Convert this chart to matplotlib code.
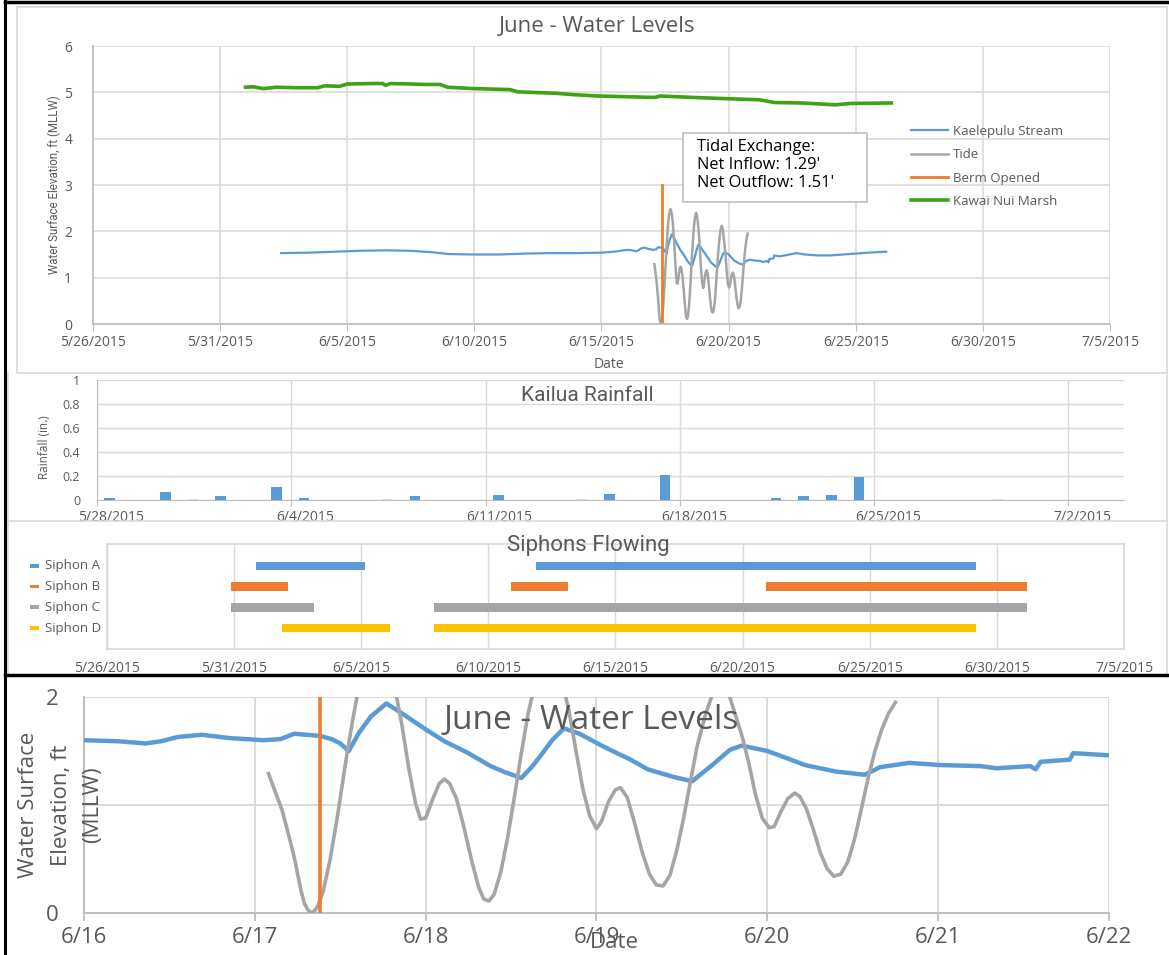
import numpy as np
import pandas as pd
import matplotlib
matplotlib.use("Agg")
import matplotlib.pyplot as plt
import matplotlib.dates as mdates
from matplotlib.lines import Line2D
from matplotlib.patches import Rectangle

plt.rcParams['font.family'] = ['Open Sans', 'DejaVu Sans']

# ---------------- data ----------------
# June day numbers (6/1 00:00 = 1.0)
kael_day = [2.4, 3.5, 4.5, 5.5, 6.5, 7.5, 8.3, 9.0, 10.0, 11.0, 12.0, 13.0, 14.0, 15.0, 15.5,
            16.0, 16.2, 16.36, 16.45, 16.55, 16.69, 16.85, 17.05, 17.15, 17.23, 17.38, 17.45,
            17.5, 17.55, 17.61, 17.68, 17.77, 17.86, 18.0, 18.11, 18.25, 18.38, 18.47, 18.56,
            18.62, 18.67, 18.74, 18.81, 18.9, 19.03, 19.12, 19.2, 19.3, 19.45, 19.56, 19.67,
            19.78, 19.85, 20.0, 20.12, 20.22, 20.4, 20.57, 20.66, 20.83, 21.01, 21.25, 21.34,
            21.54, 21.57, 21.6, 21.77, 21.79, 22.0, 22.4, 22.66, 23.0, 23.5, 24.0, 24.5, 25.0,
            25.5, 26.2]
kael_val = [1.53, 1.54, 1.56, 1.58, 1.59, 1.58, 1.55, 1.51, 1.50, 1.50, 1.52, 1.53, 1.53, 1.54, 1.56,
            1.60, 1.59, 1.57, 1.59, 1.63, 1.65, 1.62, 1.60, 1.61, 1.66, 1.64, 1.61,
            1.57, 1.50, 1.67, 1.82, 1.94, 1.85, 1.70, 1.59, 1.48, 1.36, 1.30, 1.25,
            1.35, 1.45, 1.60, 1.71, 1.66, 1.55, 1.48, 1.42, 1.33, 1.26, 1.22, 1.36,
            1.51, 1.55, 1.50, 1.43, 1.37, 1.31, 1.28, 1.35, 1.39, 1.37, 1.36, 1.34,
            1.36, 1.33, 1.40, 1.42, 1.48, 1.46, 1.50, 1.53, 1.50, 1.48, 1.48, 1.50, 1.52,
            1.54, 1.56]

tide_day = [17.08, 17.12, 17.16, 17.20, 17.23, 17.27, 17.29, 17.31, 17.33, 17.35, 17.37, 17.40,
            17.44, 17.48, 17.51, 17.54, 17.57, 17.60, 17.63, 17.66, 17.71, 17.76, 17.80, 17.83,
            17.86, 17.90, 17.94, 17.97, 18.00, 18.04, 18.08, 18.11, 18.14, 18.18, 18.22, 18.27,
            18.31, 18.34, 18.37, 18.40, 18.44, 18.48, 18.52, 18.56, 18.60, 18.64, 18.68, 18.72,
            18.76, 18.80, 18.84, 18.88, 18.92, 18.96, 19.00, 19.03, 19.07, 19.11, 19.14, 19.18,
            19.22, 19.27, 19.31, 19.35, 19.39, 19.43, 19.47, 19.51, 19.55, 19.59, 19.64, 19.68,
            19.73, 19.77, 19.81, 19.85, 19.89, 19.93, 19.97, 20.01, 20.04, 20.08, 20.12, 20.16,
            20.19, 20.23, 20.27, 20.31, 20.35, 20.39, 20.43, 20.47, 20.51, 20.55, 20.59, 20.63,
            20.67, 20.71, 20.75]
tide_val = [1.29, 1.12, 0.95, 0.71, 0.52, 0.21, 0.09, 0.03, 0.00, 0.02, 0.07, 0.20,
            0.49, 0.86, 1.17, 1.48, 1.76, 2.02, 2.22, 2.36, 2.48, 2.40, 2.20, 2.00,
            1.75, 1.35, 1.02, 0.87, 0.88, 1.05, 1.20, 1.24, 1.20, 1.06, 0.82, 0.48,
            0.24, 0.13, 0.11, 0.17, 0.38, 0.70, 1.08, 1.48, 1.85, 2.12, 2.32, 2.40,
            2.33, 2.14, 1.86, 1.50, 1.15, 0.90, 0.78, 0.85, 1.03, 1.14, 1.16, 1.07,
            0.85, 0.55, 0.36, 0.26, 0.25, 0.35, 0.58, 0.88, 1.22, 1.55, 1.85, 2.03,
            2.12, 2.05, 1.85, 1.65, 1.40, 1.10, 0.88, 0.79, 0.80, 0.94, 1.06, 1.11,
            1.08, 0.96, 0.77, 0.56, 0.41, 0.34, 0.36, 0.47, 0.68, 0.96, 1.25, 1.50,
            1.70, 1.85, 1.95]

berm_day = [17.38, 17.38]
berm_val = [0.0, 3.0]

marsh_day = [1.0, 1.3, 1.7, 2.2, 3.0, 3.84, 4.1, 4.7, 5.0, 6.0, 6.4, 6.5, 6.7, 7.5, 8.0, 8.65,
             8.95, 10.0, 11.4, 11.7, 13.2, 13.9, 14.9, 15.64, 17.1, 17.3, 18.6, 20.06, 21.2,
             21.8, 22.9, 24.2, 24.8, 26.4]
marsh_val = [5.11, 5.12, 5.08, 5.11, 5.10, 5.10, 5.14, 5.13, 5.18, 5.19, 5.19, 5.15, 5.19, 5.18,
             5.17, 5.17, 5.11, 5.08, 5.06, 5.01, 4.98, 4.95, 4.92, 4.91, 4.89, 4.92, 4.89, 4.86,
             4.84, 4.78, 4.77, 4.73, 4.76, 4.77]

rain_dates = ['2015-05-28', '2015-05-30', '2015-06-01', '2015-06-03', '2015-06-04', '2015-06-08',
              '2015-06-11', '2015-06-15', '2015-06-17', '2015-06-21', '2015-06-22', '2015-06-23',
              '2015-06-24']
rain_vals = [0.015, 0.07, 0.03, 0.11, 0.02, 0.03, 0.04, 0.05, 0.21, 0.02, 0.03, 0.04, 0.19]
trace_dates = ['2015-05-31', '2015-06-07', '2015-06-14', '2015-06-29']
trace_vals = [0.01, 0.01, 0.01, 0.01]

siphons = ['Siphon A', 'Siphon B', 'Siphon C', 'Siphon D']
siphon_runs = {
    'Siphon A': [('2015-05-31 21:00', '2015-06-05 04:00'), ('2015-06-11 21:00', '2015-06-29 04:00')],
    'Siphon B': [('2015-05-30 21:00', '2015-06-02 03:00'), ('2015-06-10 21:00', '2015-06-13 03:00'),
                 ('2015-06-20 22:00', '2015-07-01 04:00')],
    'Siphon C': [('2015-05-30 21:00', '2015-06-03 03:00'), ('2015-06-07 21:00', '2015-07-01 04:00')],
    'Siphon D': [('2015-06-01 21:00', '2015-06-06 03:00'), ('2015-06-07 21:00', '2015-06-29 04:00')],
}
siphon_colors = ['#5B9BD5', '#ED7D31', '#A5A5A5', '#FFC000']

BLUE, GRAY, ORANGE, GREEN = '#5B9BD5', '#A5A5A5', '#ED7D31', '#3EA312'
GRID, SPINE, TXT = '#D9D9D9', '#BFBFBF', '#595959'


def june(d):
    return pd.Timestamp('2015-05-31') + pd.to_timedelta(np.asarray(d, dtype=float), unit='D')


def mdy(d):
    return f"{d.month}/{d.day}/{d.year}"


W, H = 1169, 955
fig = plt.figure(figsize=(W / 100, H / 100), dpi=100)


def rect(l, t, r, b):
    return [l / W, 1 - b / H, (r - l) / W, (b - t) / H]


def ftext(x, y, s, **kw):
    return fig.text(x / W, 1 - y / H, s, **kw)


def fline(xs, ys, **kw):
    fig.add_artist(Line2D([x / W for x in xs], [1 - y / H for y in ys],
                          transform=fig.transFigure, **kw))


def style(ax):
    for s in ax.spines.values():
        s.set_visible(False)
    ax.set_facecolor('none')


# ---------------- frames ----------------
fline([17, 17, 1167], [7, 373, 373], color=GRID, lw=1.2)
fline([17, 1167], [7, 7], color=GRID, lw=1.2)
fline([8, 8], [373, 673], color=GRID, lw=1.2)
fline([1167, 1167], [7, 673], color=GRID, lw=1.2)
fline([8, 1167], [521, 521], color=GRID, lw=1.2)
fline([5, 1169], [2, 2], color='black', lw=2.5)
fline([5, 5], [0, 955], color='black', lw=2.2)
fline([5, 1169], [675, 675], color='black', lw=2.5)

# ---------------- panel 1 ----------------
ax1 = fig.add_axes(rect(93, 46, 1110, 324))
style(ax1)
x0, x1 = pd.Timestamp('2015-05-26'), pd.Timestamp('2015-07-05')
ax1.set_xlim(x0, x1)
ax1.set_ylim(0, 6)
ticks5 = pd.date_range(x0, x1, freq='5D')
ax1.set_xticks(ticks5)
ax1.set_xticklabels([mdy(d) for d in ticks5])
ax1.set_yticks(range(0, 7))
ax1.grid(True, color=GRID, lw=1.1)
ax1.spines['left'].set_visible(True)
ax1.spines['bottom'].set_visible(True)
ax1.spines['left'].set_color(SPINE)
ax1.spines['bottom'].set_color(SPINE)
ax1.spines['left'].set_linewidth(1.3)
ax1.spines['bottom'].set_linewidth(1.3)
ax1.tick_params(axis='x', length=5, color=SPINE, labelsize=10, labelcolor=TXT, pad=3)
ax1.tick_params(axis='y', length=0, labelsize=10, labelcolor=TXT, pad=15)
l_k, = ax1.plot(june(kael_day), kael_val, color=BLUE, lw=1.6, label='Kaelepulu Stream')
l_t, = ax1.plot(june(tide_day), tide_val, color=GRAY, lw=1.8, label='Tide')
l_b, = ax1.plot(june(berm_day), berm_val, color=ORANGE, lw=2.0, label='Berm Opened')
l_m, = ax1.plot(june(marsh_day), marsh_val, color=GREEN, lw=2.6, label='Kawai Nui Marsh')
ax1.legend(handles=[l_k, l_t, l_b, l_m], loc='upper left',
           bbox_to_anchor=(911 / W, 1 - 125 / H), bbox_transform=fig.transFigure,
           frameon=False, fontsize=9.5, labelcolor=TXT, handlelength=2.8,
           handletextpad=0.35, labelspacing=0.78, borderpad=0, borderaxespad=0)
ftext(597, 27, 'June - Water Levels', ha='center', va='center', fontsize=16, color=TXT)
ftext(609, 364, 'Date', ha='center', va='center', fontsize=10, color=TXT)
ftext(54, 185, 'Water Surface Elevation, ft (MLLW)', rotation=90, ha='center', va='center',
      fontsize=8.3, color=TXT, family=['Roboto', 'DejaVu Sans'])
fig.add_artist(Rectangle((683 / W, 1 - 202 / H), (867 - 683) / W, (202 - 133) / H,
                         transform=fig.transFigure, facecolor='white', edgecolor=SPINE, lw=1.2))
for yy, s in [(147, 'Tidal Exchange:'), (165, "Net Inflow: 1.29'"), (183, "Net Outflow: 1.51'")]:
    ftext(697, yy, s, ha='left', va='center', fontsize=11.8, color='black')

# ---------------- panel 2: rainfall ----------------
ax2 = fig.add_axes(rect(97, 380, 1124, 500))
style(ax2)
r0, r1 = pd.Timestamp('2015-05-28'), pd.Timestamp('2015-07-04')
ax2.set_xlim(r0, r1)
ax2.set_ylim(0, 1)
ticks7 = pd.date_range(r0, r1, freq='7D')
ax2.set_xticks(ticks7)
ax2.set_xticklabels([])
ax2.set_xticks(ticks7 + pd.Timedelta(hours=12), minor=True)
ax2.set_xticklabels([mdy(d) for d in ticks7], minor=True)
ax2.set_yticks(np.arange(0, 1.01, 0.2))
ax2.set_yticklabels(['0', '0.2', '0.4', '0.6', '0.8', '1'])
ax2.grid(True, which='major', color=GRID, lw=1.0)
ax2.spines['left'].set_visible(True)
ax2.spines['bottom'].set_visible(True)
ax2.spines['left'].set_color(SPINE)
ax2.spines['bottom'].set_color(SPINE)
ax2.tick_params(axis='x', which='major', length=4, color=SPINE)
ax2.tick_params(axis='x', which='minor', length=0, labelsize=10, labelcolor=TXT, pad=7)
ax2.tick_params(axis='y', length=0, labelsize=9, labelcolor=TXT, pad=12)
bar_w = 0.38
ax2.bar(pd.to_datetime(trace_dates) + pd.Timedelta(hours=11), trace_vals, width=bar_w,
        color='#C9DDF0', zorder=3)
ax2.bar(pd.to_datetime(rain_dates) + pd.Timedelta(hours=11), rain_vals, width=bar_w,
        color=BLUE, zorder=3)
ftext(587, 395, 'Kailua Rainfall', ha='center', va='center', fontsize=15, color=TXT,
      family=['Roboto', 'DejaVu Sans'])
ftext(44, 447, 'Rainfall (in.)', rotation=90, ha='center', va='center', fontsize=8.5,
      color=TXT)

# ---------------- panel 3: siphons ----------------
ax3 = fig.add_axes(rect(107, 544, 1124, 649))
ax3.set_facecolor('none')
ax3.set_xlim(x0, x1)
ax3.set_ylim(-1.0, 4.05)
ax3.set_xticks(ticks5)
ax3.set_xticklabels([mdy(d) for d in ticks5])
ax3.set_yticks([])
ax3.grid(True, axis='x', color=GRID, lw=1.0)
for s in ax3.spines.values():
    s.set_color(GRID)
    s.set_linewidth(1.2)
ax3.tick_params(axis='x', length=0, labelsize=10, labelcolor=TXT, pad=9)
ypos = {name: 3 - i for i, name in enumerate(siphons)}
for name, col in zip(siphons, siphon_colors):
    for st, en in siphon_runs[name]:
        s_num = mdates.date2num(pd.Timestamp(st))
        e_num = mdates.date2num(pd.Timestamp(en))
        ax3.barh(ypos[name], e_num - s_num, left=s_num, height=0.4, color=col, zorder=3)
for i, (name, col) in enumerate(zip(siphons, siphon_colors)):
    yy = 565.7 + i * 20.8
    fig.add_artist(Rectangle((30 / W, 1 - (yy + 1.8) / H), 9 / W, 3.6 / H,
                             transform=fig.transFigure, color=col, lw=0))
    ftext(45, yy, name, ha='left', va='center', fontsize=9.5, color=TXT)
ftext(588, 545, 'Siphons Flowing', ha='center', va='center', fontsize=16, color=TXT,
      family=['Roboto', 'DejaVu Sans'])

# ---------------- panel 4: detail ----------------
ax4 = fig.add_axes(rect(84, 697, 1109, 913))
style(ax4)
d0, d1 = pd.Timestamp('2015-06-16'), pd.Timestamp('2015-06-22')
ax4.set_xlim(d0, d1)
ax4.set_ylim(0, 2)
days = pd.date_range(d0, d1, freq='D')
ax4.set_xticks(days)
ax4.set_xticklabels([f"{d.month}/{d.day}" for d in days])
ax4.set_yticks([0, 2])
ax4.set_yticks([1], minor=True)
ax4.grid(True, which='both', color=GRID, lw=1.3)
ax4.spines['left'].set_visible(True)
ax4.spines['bottom'].set_visible(True)
ax4.spines['left'].set_color(SPINE)
ax4.spines['bottom'].set_color(SPINE)
ax4.spines['left'].set_linewidth(1.5)
ax4.spines['bottom'].set_linewidth(1.5)
ax4.tick_params(axis='x', length=6, width=1.3, color=SPINE, labelsize=16, labelcolor=TXT, pad=4)
ax4.tick_params(axis='y', which='both', length=0, labelsize=16, labelcolor=TXT, pad=18)
ax4.plot(june(kael_day), kael_val, color=BLUE, lw=3.2, zorder=3)
ax4.plot(june(tide_day), tide_val, color=GRAY, lw=2.6, zorder=3)
ax4.plot(june(berm_day), berm_val, color=ORANGE, lw=2.6, zorder=4)
ftext(591, 720, 'June - Water Levels', ha='center', va='center', fontsize=24, color=TXT)
ftext(614, 942, 'Date', ha='center', va='center', fontsize=16, color=TXT)
for xx, s in [(29, 'Water Surface'), (61, 'Elevation, ft'), (93, '(MLLW)')]:
    ftext(xx, 805, s, rotation=90, ha='center', va='center', fontsize=16, color=TXT)

fig.savefig('out.png', dpi=100)
